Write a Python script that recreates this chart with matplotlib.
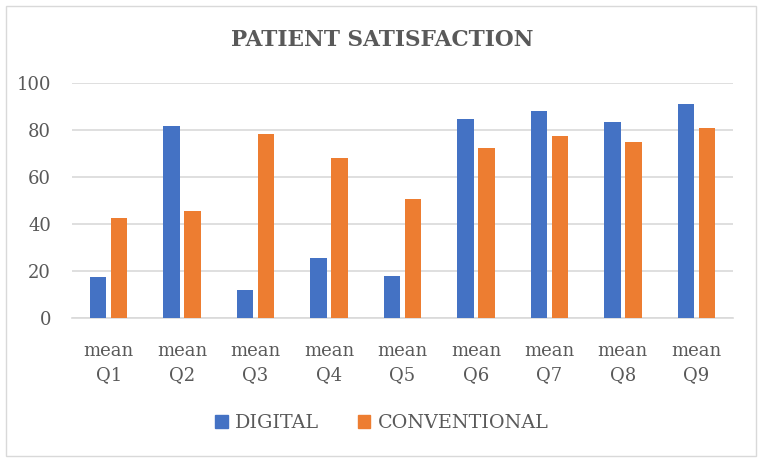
import matplotlib
matplotlib.use("Agg")
import matplotlib.pyplot as plt
from matplotlib.patches import Rectangle, Patch
import numpy as np

categories = ["mean\nQ1", "mean\nQ2", "mean\nQ3", "mean\nQ4", "mean\nQ5",
              "mean\nQ6", "mean\nQ7", "mean\nQ8", "mean\nQ9"]
digital = [17.7, 81.7, 12.2, 25.6, 17.8, 84.6, 88.0, 83.3, 90.8]
conventional = [42.4, 45.5, 78.1, 67.9, 50.5, 72.3, 77.2, 74.8, 80.8]
yticks = [0, 20, 40, 60, 80, 100]

blue = "#4472C4"
orange = "#ED7D31"
grey_text = "#595959"
serif = "DejaVu Serif"

fig = plt.figure(figsize=(7.64, 4.63), dpi=100)
# outer chart border
fig.patches.append(Rectangle((6 / 764, 1 - 456 / 463), 750 / 764, 450 / 463,
                             transform=fig.transFigure, fill=False,
                             edgecolor="#D9D9D9", linewidth=1))

ax = fig.add_axes([72 / 764, 1 - 318.3 / 463, 661 / 764, 235.6 / 463])
x = np.arange(len(categories))
w = 0.225
off = 0.143
ax.bar(x - off, digital, w, color=blue, zorder=3)
ax.bar(x + off, conventional, w, color=orange, zorder=3)

ax.set_xlim(-0.5, len(categories) - 0.5)
ax.set_ylim(0, 100)
ax.set_yticks(yticks)
ax.yaxis.grid(True, color="#D9D9D9", linewidth=1.2, zorder=0)
ax.set_xticks(x)
ax.set_xticklabels(categories, fontsize=13, family=serif, color=grey_text,
                   linespacing=1.45)
for lab in ax.get_yticklabels():
    lab.set_fontsize(13)
    lab.set_family(serif)
    lab.set_color(grey_text)
ax.tick_params(axis="both", length=0)
ax.tick_params(axis="y", pad=15)
ax.tick_params(axis="x", pad=17)
for s in ["top", "right", "left"]:
    ax.spines[s].set_visible(False)
ax.spines["bottom"].set_color("#D9D9D9")
ax.spines["bottom"].set_linewidth(1.2)

fig.text(0.5, 1 - 40 / 463, "PATIENT SATISFACTION", ha="center", va="center",
         fontsize=15.6, fontweight="bold", family=serif, color=grey_text)

handles = [Patch(color=blue, label="DIGITAL"),
           Patch(color=orange, label="CONVENTIONAL")]
fig.legend(handles=handles, loc="center", bbox_to_anchor=(0.5, 1 - 423 / 463),
           ncol=2, frameon=False, handlelength=0.65, handleheight=0.65,
           handletextpad=0.4, columnspacing=2.0,
           prop={"family": serif, "size": 13.8}, labelcolor=grey_text)

fig.savefig("out.png", dpi=100)
